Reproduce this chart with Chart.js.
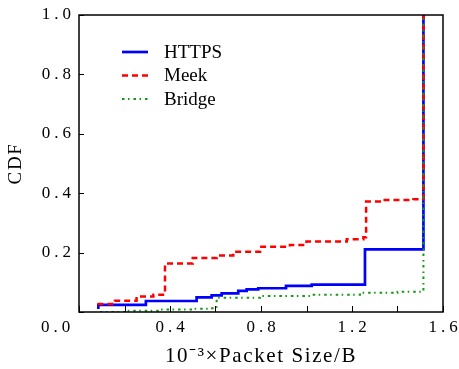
<!DOCTYPE html>
<html><head><meta charset="utf-8">
<script src="https://cdn.jsdelivr.net/npm/chart.js@4/dist/chart.umd.min.js"></script>
<style>html,body{margin:0;padding:0;background:#fff;}</style>
</head><body>
<canvas id="c" width="459" height="369"></canvas>
<script>
const seriesNames = ['HTTPS', 'Meek', 'Bridge'];

const httpsX = [0.085, 0.085, 0.294, 0.517, 0.583, 0.627, 0.700, 0.737, 0.788, 0.910, 1.023, 1.257, 1.514];
const httpsY = [0.010, 0.024, 0.037, 0.049, 0.056, 0.063, 0.071, 0.076, 0.080, 0.088, 0.092, 0.211, 1.000];

const meekX = [0.081, 0.158, 0.253, 0.327, 0.378, 0.500, 0.605, 0.678, 0.796, 0.927, 1.000, 1.177, 1.250, 1.262, 1.336, 1.470, 1.514];
const meekY = [0.027, 0.038, 0.052, 0.058, 0.163, 0.182, 0.190, 0.203, 0.220, 0.226, 0.237, 0.245, 0.252, 0.372, 0.377, 0.380, 1.000];

const bridgeX = [0.092, 0.210, 0.356, 0.500, 0.576, 0.605, 0.796, 1.015, 1.235, 1.400, 1.514];
const bridgeY = [0.000, 0.004, 0.008, 0.011, 0.013, 0.048, 0.054, 0.058, 0.065, 0.068, 1.000];

const xTickStep = 0.2;
const yTickStep = 0.2;
const xTitle = '10\u207B\u00B3\u00D7Packet Size/B';
const yTitle = 'CDF';

const pts = (xs, ys) => xs.map((x, i) => ({x: x, y: ys[i]}));

// letter spacing: titles (drawn before datasets) and tick labels (drawn after, z = 1)
const spacingPlugin = {
  id: 'spacing',
  beforeDraw(chart) { chart.ctx.letterSpacing = '1.6px'; },
  beforeDatasetsDraw(chart) { chart.ctx.letterSpacing = '0px'; },
  afterDatasetsDraw(chart) { chart.ctx.letterSpacing = '4px'; }
};

// frame around the plot area and inward tick marks at the scales' ticks
const framePlugin = {
  id: 'frame',
  afterDatasetsDraw(chart) {
    const ctx = chart.ctx, a = chart.chartArea;
    const xs = chart.scales.x, ys = chart.scales.y;
    ctx.save();
    ctx.strokeStyle = '#000';
    ctx.lineWidth = 1;
    ctx.beginPath();
    xs.ticks.forEach(t => {
      const px = Math.round(xs.getPixelForValue(t.value)) + 0.5;
      ctx.moveTo(px, a.bottom); ctx.lineTo(px, a.bottom - 6);
    });
    ys.ticks.forEach(t => {
      const py = Math.round(ys.getPixelForValue(t.value)) + 0.5;
      ctx.moveTo(a.left, py); ctx.lineTo(a.left + 5, py);
    });
    ctx.stroke();
    ctx.lineWidth = 1.5;
    ctx.strokeRect(a.left, a.top, a.right - a.left, a.bottom - a.top);
    ctx.restore();
  }
};

const legendPlugin = {
  id: 'innerLegend',
  afterDraw(chart) {
    const ctx = chart.ctx, a = chart.chartArea;
    ctx.save();
    ctx.letterSpacing = '0px';
    chart.data.datasets.forEach((ds, i) => {
      const y = a.top + 37 + i * 23.5;
      ctx.beginPath();
      ctx.strokeStyle = ds.borderColor;
      ctx.lineWidth = ds.borderWidth;
      ctx.setLineDash(ds.borderDash || []);
      ctx.moveTo(a.left + 43, y);
      ctx.lineTo(a.left + 69, y);
      ctx.stroke();
      ctx.setLineDash([]);
      ctx.fillStyle = '#000';
      ctx.font = '19px "Liberation Serif"';
      ctx.textBaseline = 'middle';
      ctx.textAlign = 'left';
      ctx.fillText(ds.label, a.left + 85, y + 1);
    });
    ctx.restore();
  }
};

const tickFont = {family: 'Liberation Serif', size: 17};

new Chart(document.getElementById('c'), {
  type: 'line',
  data: {
    datasets: [
      {label: seriesNames[0], data: pts(httpsX, httpsY), borderColor: '#0000ff', borderWidth: 2.7, stepped: 'before', pointRadius: 0, fill: false, order: 2},
      {label: seriesNames[1], data: pts(meekX, meekY), borderColor: '#ff0000', borderWidth: 2.5, borderDash: [6, 4], stepped: 'before', pointRadius: 0, fill: false, order: 1},
      {label: seriesNames[2], data: pts(bridgeX, bridgeY), borderColor: '#119911', borderWidth: 2, borderDash: [2.5, 3.5, 1.5, 4], stepped: 'before', pointRadius: 0, fill: false, order: 0}
    ]
  },
  options: {
    responsive: false,
    animation: false,
    layout: {padding: {left: 0, right: 16, top: 15, bottom: 0}},
    plugins: {legend: {display: false}, tooltip: {enabled: false}},
    scales: {
      x: {
        type: 'linear', position: 'bottom', min: 0, max: 1.6,
        ticks: {
          stepSize: xTickStep, autoSkip: false, maxRotation: 0, color: '#000', font: tickFont, padding: 5, labelOffset: 2, z: 1,
          callback: (v) => {
            const i = Math.round(v / xTickStep);
            if (i === 0) return '0.0     \u200A';
            return i % 2 === 0 ? v.toFixed(1) : '';
          }
        },
        grid: {display: false, drawTicks: false},
        border: {display: false},
        title: {display: true, text: xTitle, color: '#000', font: {family: 'Liberation Serif', size: 21}, padding: {top: 0, bottom: 0}},
        afterFit: (s) => { s.height = 57; s.paddingLeft = 0; s.paddingRight = 0; }
      },
      y: {
        type: 'linear', position: 'left', min: 0, max: 1,
        ticks: {
          stepSize: yTickStep, color: '#000', font: tickFont, padding: 4, z: 1,
          callback: (v) => (Math.abs(v) < 1e-9 ? '' : v.toFixed(1))
        },
        grid: {display: false, drawTicks: false},
        border: {display: false},
        title: {display: true, text: yTitle, color: '#000', font: {family: 'Liberation Serif', size: 19}, padding: {top: 5, bottom: 0}},
        afterFit: (s) => { s.width = 79; s.paddingTop = 0; s.paddingBottom = 0; }
      }
    }
  },
  plugins: [spacingPlugin, framePlugin, legendPlugin]
});
</script>
</body></html>
